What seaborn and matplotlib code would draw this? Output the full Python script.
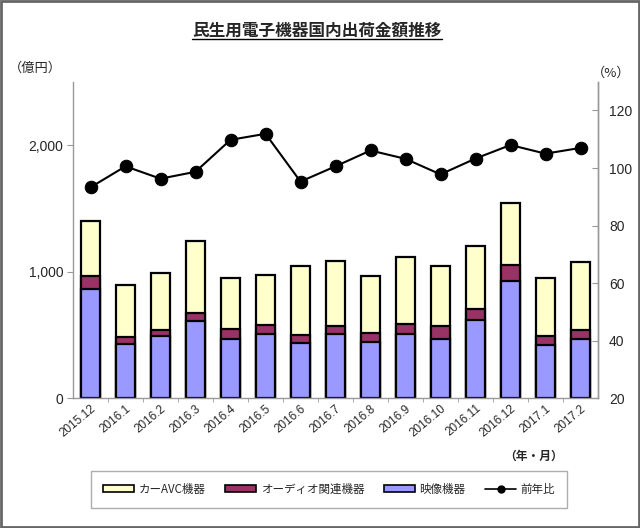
import numpy as np
import pandas as pd
import matplotlib
matplotlib.use("Agg")
import matplotlib.pyplot as plt
import seaborn as sns
from matplotlib.patches import Rectangle, Patch
from matplotlib.lines import Line2D
from matplotlib.ticker import FuncFormatter, FixedLocator

months = ["2015.12", "2016.1", "2016.2", "2016.3", "2016.4", "2016.5", "2016.6", "2016.7",
          "2016.8", "2016.9", "2016.10", "2016.11", "2016.12", "2017.1", "2017.2"]
video = [860, 429, 492, 613, 466, 510, 434, 505, 447, 507, 466, 618, 923, 418, 466]
audio = [103, 57, 47, 58, 78, 71, 68, 68, 66, 77, 102, 87, 129, 76, 73]
car_avc = [439, 406, 450, 568, 403, 390, 540, 511, 450, 531, 479, 495, 487, 458, 534]
yoy = [93.3, 100.6, 96.3, 98.7, 109.8, 111.9, 95.3, 100.6, 106.1, 103.2, 97.8, 103.3, 108.0, 105.0, 107.0]

names = ["カーAVC機器", "オーディオ関連機器", "映像機器", "前年比"]
col_car = "#FFFFCC"
col_audio = "#993366"
col_video = "#9999FF"

sns.set_style("white")
plt.rcParams['font.family'] = ['Noto Sans CJK JP', 'DejaVu Sans']

df = pd.DataFrame({"month": months, "video": video, "audio": audio, "car": car_avc, "yoy": yoy})
df["lvl_audio"] = df["video"] + df["audio"]
df["lvl_car"] = df["lvl_audio"] + df["car"]
df["pos"] = np.arange(len(df))

fig = plt.figure(figsize=(6.4, 5.28), dpi=100)
ax = fig.add_axes([73/640, 1-398.3/528, (598-73)/640, (398.3-81.7)/528])

bw = 0.57
for col, c in [("lvl_car", col_car), ("lvl_audio", col_audio), ("video", col_video)]:
    sns.barplot(data=df, x="month", y=col, color=c, width=bw, edgecolor="black",
                linewidth=1.6, saturation=1, ax=ax, order=months)

ax.set_ylim(0, 2500)
ax.set_xlim(-0.5, len(months) - 0.5)
ax.yaxis.set_major_locator(FixedLocator([0, 1000, 2000]))
ax.yaxis.set_major_formatter(FuncFormatter(lambda v, p: f"{int(v):,}"))
ax.set_xlabel("")
ax.set_ylabel("")
ax.spines["top"].set_visible(False)
for s in ["left", "right", "bottom"]:
    ax.spines[s].set_color("#999999")
    ax.spines[s].set_linewidth(1.0)
ax.tick_params(axis="y", which="major", direction="out", length=4, color="#999999",
               labelsize=10, left=True, pad=3)
ax.tick_params(axis="x", which="major", length=0, labelsize=8.5, pad=3)
ax.set_xticks(range(len(months)))
ax.set_xticklabels(months, rotation=40, ha="right", rotation_mode="anchor",
                   family=["Liberation Sans", "DejaVu Sans"])
ax.set_xticks(np.arange(0.5, len(months) - 1, 1.0), minor=True)
ax.tick_params(axis="x", which="minor", direction="out", length=3, color="#999999", bottom=True)
for lab in ax.get_yticklabels():
    lab.set_family(["Liberation Sans", "DejaVu Sans"])

ax2 = ax.twinx()
sns.lineplot(data=df, x="pos", y="yoy", color="black", marker="o", markersize=9,
             linewidth=1.5, markeredgecolor="black", ax=ax2)
ax2.set_ylim(20, 130)
ax2.yaxis.set_major_locator(FixedLocator([20, 40, 60, 80, 100, 120]))
ax2.set_ylabel("")
ax2.set_xlabel("")
for s in ["top", "left", "bottom"]:
    ax2.spines[s].set_visible(False)
ax2.spines["right"].set_color("#999999")
ax2.spines["right"].set_linewidth(1.0)
ax2.tick_params(axis="y", direction="in", length=4, color="#999999", labelsize=10, pad=8)
for lab in ax2.get_yticklabels():
    lab.set_family(["Liberation Sans", "DejaVu Sans"])
ax2.set_xlim(-0.5, len(months) - 0.5)

# unit labels
fig.text(35/640, 1-68/528, "（億円）", ha="center", va="center", fontsize=9.5)
fig.text(611/640, 1-73/528, "（%）", ha="center", va="center", fontsize=9.5)
fig.text(563/640, 1-456/528, "（年・月）", ha="right", va="center", fontsize=8.5, fontweight="bold")

# title with underline
title = fig.text(317/640, 1-31/528, "民生用電子機器国内出荷金額推移", ha="center", va="center",
                 fontsize=12, fontweight="bold")
fig.canvas.draw()
bb = title.get_window_extent(fig.canvas.get_renderer())
inv = fig.transFigure.inverted()
(x0, y0), (x1, y1) = inv.transform([[bb.x0, bb.y0], [bb.x1, bb.y1]])
fig.add_artist(Line2D([x0, x1], [y0 + 0.001, y0 + 0.001], color="black", linewidth=1.0,
                      transform=fig.transFigure))

# legend
handles = [Patch(facecolor=col_car, edgecolor="black", linewidth=1.2),
           Patch(facecolor=col_audio, edgecolor="black", linewidth=1.2),
           Patch(facecolor=col_video, edgecolor="black", linewidth=1.2),
           Line2D([0], [0], color="black", marker="o", markersize=5, linewidth=1.2)]
leg = fig.legend(handles, names, loc="center", bbox_to_anchor=(329/640, 1-489.5/528),
                 ncol=4, fontsize=8.3, frameon=True, fancybox=False, edgecolor="#999999",
                 handlelength=2.7, handleheight=0.55, columnspacing=1.7, handletextpad=0.4,
                 borderpad=1.0, borderaxespad=0)
leg.get_frame().set_linewidth(1.0)

# outer frame
fig.add_artist(Rectangle((0.001, 0.002), 0.998, 0.996, transform=fig.transFigure,
                         fill=False, edgecolor="#666666", linewidth=2))

fig.savefig("out.png", dpi=100)
